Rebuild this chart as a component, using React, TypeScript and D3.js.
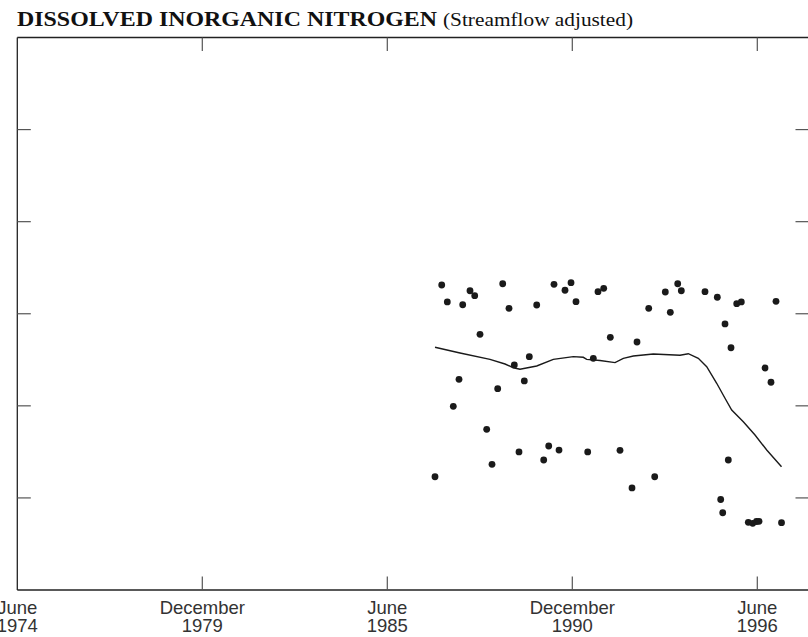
import React from "react";
import * as d3 from "d3";

// Sample dates (decimal years) and streamflow-adjusted concentrations (axis units)
const sampleYears = [
  1986.918, 1987.118, 1987.284, 1987.462, 1987.632, 1987.742, 1987.959, 1988.099,
  1988.256, 1988.455, 1988.613, 1988.782, 1988.931, 1989.118, 1989.276, 1989.415,
  1989.573, 1989.722, 1989.942, 1990.15, 1990.299, 1990.456, 1990.605, 1990.783,
  1990.962, 1991.11, 1991.458, 1991.625, 1991.764, 1991.934, 1992.13, 1992.418,
  1992.775, 1992.924, 1993.272, 1993.45, 1993.765, 1993.914, 1994.134, 1994.241,
  1994.945, 1995.311, 1995.412, 1995.472, 1995.54, 1995.638, 1995.718, 1995.888,
  1996.025, 1996.233, 1996.364, 1996.476, 1996.551, 1996.729, 1996.907, 1997.056,
  1997.22,
];
const sampleValues = [
  1.23, 3.312, 3.128, 1.995, 2.288, 3.098, 3.25, 3.196,
  2.777, 1.745, 1.365, 2.186, 3.326, 3.059, 2.444, 1.499,
  2.27, 2.534, 3.095, 1.412, 1.564, 3.32, 1.52, 3.255,
  3.337, 3.131, 1.499, 2.516, 3.24, 3.276, 2.744, 1.517,
  1.108, 2.693, 3.059, 1.23, 3.236, 3.016, 3.326, 3.25,
  3.24, 3.179, 0.983, 0.839, 2.889, 1.412, 2.631, 3.109,
  3.128, 0.735, 0.724, 0.744, 0.746, 2.411, 2.256, 3.135,
  0.731,
];

// Smoothed trend curve
const trendYears = [
  1986.918, 1987.662, 1988.553, 1989.0, 1989.246, 1989.445, 1989.942, 1990.435,
  1991.03, 1991.327, 1991.428, 1991.824, 1992.27, 1992.517, 1992.814, 1993.408,
  1994.202, 1994.449, 1994.746, 1994.996, 1995.293, 1995.54, 1995.739, 1996.084,
  1996.432, 1996.78, 1997.22,
];
const trendValues = [
  2.636, 2.574, 2.505, 2.454, 2.414, 2.397, 2.433, 2.505,
  2.534, 2.527, 2.505, 2.492, 2.469, 2.516, 2.541, 2.563,
  2.549, 2.566, 2.516, 2.425, 2.245, 2.082, 1.955, 1.828,
  1.683, 1.52, 1.339,
];

// X axis ticks
const xTickValues = [1974.5, 1980.0, 1985.5, 1991.0, 1996.5];
const xTickMonths = ["June", "December", "June", "December", "June"];
const xTickYears = ["1974", "1979", "1985", "1990", "1996"];

// Y axis ticks (unlabelled)
const yTickValues = [1, 2, 3, 4, 5];

const titleMain = "DISSOLVED INORGANIC NITROGEN";
const titleSub = "(Streamflow adjusted)";

export default function App() {
  const W = 808;
  const H = 637;
  const left = 17.3;
  const right = 809;
  const top = 37.5;
  const bottom = 590;

  const x = d3
    .scaleLinear()
    .domain([1974.5, 1996.5])
    .range([left, 757.3]);
  const xEnd = x.invert(right);
  x.domain([1974.5, xEnd]).range([left, right]);

  const y = d3.scaleLinear().domain([0, 6]).range([bottom, top]);

  const pts = sampleYears.map((t, i) => ({ t, v: sampleValues[i] }));
  const trend = trendYears.map((t, i) => ({ t, v: trendValues[i] }));
  const line = d3
    .line<{ t: number; v: number }>()
    .x((d) => x(d.t))
    .y((d) => y(d.v));

  const tickLen = 13.5;
  const axisColor = "#222";
  const tickColor = "#555";

  return (
    <svg
      width={W}
      height={H}
      style={{ position: "absolute", left: 0, top: 0, display: "block", background: "#fff" }}
    >
      {/* Title */}
      <text
        x={17}
        y={26}
        fontFamily="'Liberation Serif', 'Times New Roman', serif"
        fontWeight="bold"
        fontSize={22}
        textLength={420}
        lengthAdjust="spacingAndGlyphs"
        fill="#111"
      >
        {titleMain}
      </text>
      <text
        x={443}
        y={26}
        fontFamily="'Liberation Serif', 'Times New Roman', serif"
        fontSize={18}
        textLength={190}
        lengthAdjust="spacingAndGlyphs"
        fill="#111"
      >
        {titleSub}
      </text>

      {/* Frame */}
      <line x1={left} x2={right} y1={top} y2={top} stroke={axisColor} strokeWidth={1.3} />
      <line x1={left} x2={right} y1={bottom} y2={bottom} stroke={axisColor} strokeWidth={1.3} />
      <line x1={left} x2={left} y1={top} y2={bottom} stroke={axisColor} strokeWidth={1.3} />
      <line x1={right} x2={right} y1={top} y2={bottom} stroke={axisColor} strokeWidth={1.3} />

      {/* X ticks top & bottom */}
      {xTickValues.map((t, i) =>
        i === 0 ? null : (
          <g key={"xt" + i}>
            <line x1={x(t)} x2={x(t)} y1={top} y2={top + tickLen} stroke={tickColor} strokeWidth={1.2} />
            <line x1={x(t)} x2={x(t)} y1={bottom} y2={bottom - tickLen} stroke={tickColor} strokeWidth={1.2} />
          </g>
        )
      )}

      {/* Y ticks left & right */}
      {yTickValues.map((v, i) => (
        <g key={"yt" + i}>
          <line x1={left} x2={left + tickLen} y1={y(v)} y2={y(v)} stroke={tickColor} strokeWidth={1.2} />
          <line x1={right} x2={right - tickLen} y1={y(v)} y2={y(v)} stroke={tickColor} strokeWidth={1.2} />
        </g>
      ))}

      {/* X tick labels */}
      {xTickValues.map((t, i) => (
        <text
          key={"xl" + i}
          x={x(t)}
          textAnchor="middle"
          fontFamily="'Liberation Sans', Arial, Helvetica, sans-serif"
          fontSize={18.5}
          fill="#333"
        >
          <tspan x={x(t)} y={614}>
            {xTickMonths[i]}
          </tspan>
          <tspan x={x(t)} y={632}>
            {xTickYears[i]}
          </tspan>
        </text>
      ))}

      {/* Trend line */}
      <path d={line(trend) || ""} fill="none" stroke="#1a1a1a" strokeWidth={1.4} />

      {/* Samples */}
      {pts.map((p, i) => (
        <circle key={"p" + i} cx={x(p.t)} cy={y(p.v)} r={3.4} fill="#1a1a1a" />
      ))}
    </svg>
  );
}
